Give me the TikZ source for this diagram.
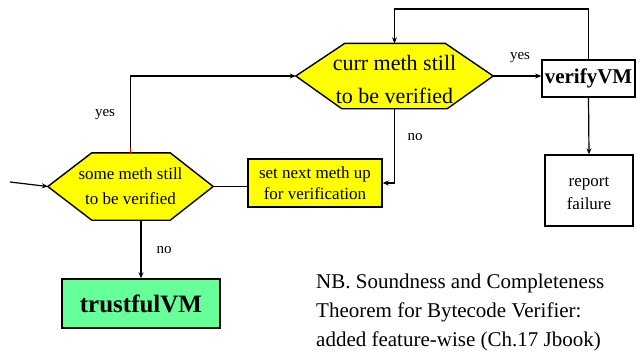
\documentclass[tikz,border=0pt]{standalone}
\usepackage{fontspec}
\setmainfont{Liberation Serif}
\usetikzlibrary{arrows.meta,backgrounds}
\definecolor{boxyellow}{RGB}{255,255,0}
\definecolor{boxgreen}{RGB}{102,255,153}
\tikzset{
  every node/.style={inner sep=0pt, align=center},
  conn/.style={line width=1.2pt, -{Stealth[length=6pt,width=5pt]}},
  plain/.style={line width=1.2pt},
  rectbox/.style={draw, line width=1.4pt},
  hexline/.style={line width=1.4pt},
  lbl/.style={font=\fontsize{15}{15}\selectfont},
}
\begin{document}
\begin{tikzpicture}[x=1pt,y=-1pt]
\useasboundingbox (0,0) rectangle (637,354);

% decision nodes (hexagons drawn behind)
\node[minimum width=197pt, minimum height=65pt] (curr) at (394.5,76) {};
\node[font=\fontsize{22}{33}\selectfont] (currtxt) at (394.5,79)
  {curr meth still\\to be verified};
\node[minimum width=165pt, minimum height=67pt, font=\fontsize{17}{25}\selectfont] (some) at (130.5,186.5)
  {some meth still\\to be verified};

\begin{scope}[on background layer]
  \filldraw[fill=boxyellow, hexline]
    (curr.west) -- ([xshift=49pt]curr.north west) -- ([xshift=-48pt]curr.north east)
    -- (curr.east) -- ([xshift=-46pt]curr.south east) -- ([xshift=46pt]curr.south west) -- cycle;
  \filldraw[fill=boxyellow, hexline]
    (some.west) -- ([xshift=44pt]some.north west) -- ([xshift=-43pt]some.north east)
    -- (some.east) -- ([xshift=-43pt]some.south east) -- ([xshift=44pt]some.south west) -- cycle;
\end{scope}

% boxes
\node[rectbox, fill=boxyellow, minimum width=134pt, minimum height=48pt,
      font=\fontsize{17}{24}\selectfont] (setnext) at (315,183)
  {\raisebox{-2pt}{\shortstack{set next meth up\\[3pt]for verification}}};
\node[rectbox, minimum width=93pt, minimum height=37pt,
      font=\fontsize{21}{21}\selectfont\bfseries] (verify) at (588.5,78.5) {verifyVM};
\node[rectbox, minimum width=88pt, minimum height=71pt] (report) at (589,190.5) {};
\node[font=\fontsize{17}{23}\selectfont] (reporttxt) at (589,193.5) {report\\failure};
\node[rectbox, fill=boxgreen, minimum width=158pt, minimum height=49pt,
      font=\fontsize{25}{25}\selectfont\bfseries] (trust) at (141,303.5) {trustfulVM};

% note
\node[anchor=west, align=left, font=\fontsize{21}{29}\selectfont] (note) at (316,312)
  {NB. Soundness and Completeness\\Theorem for Bytecode Verifier:\\added feature-wise (Ch.17 Jbook)};

% connectors
\coordinate (entry) at (10,182);
\coordinate (loop) at (588.5,9);
\draw[conn] (entry) -- (some.west);
\draw[conn] (some.north) |- (curr.west);
\draw[red, line width=1.2pt] (some.north) -- ++(0,-5);
\draw[conn] (curr.east) -- (curr.east -| verify.west);
\draw[conn] (verify.north) -- (loop) -| (curr.north);
\draw[conn] (verify.south) -- (report.north);
\draw[conn] (curr.south) |- (setnext.east);
\draw[plain] (some.east) -- (some.east -| setnext.west);
\draw[conn] (trust.north |- some.south) -- (trust.north);

% branch labels
\node[lbl] (yes1) at (105,115) {yes};
\node[lbl] (yes2) at (520,58) {yes};
\node[lbl] (no1) at (415,137) {no};
\node[lbl] (no2) at (164,250) {no};
\end{tikzpicture}
\end{document}
